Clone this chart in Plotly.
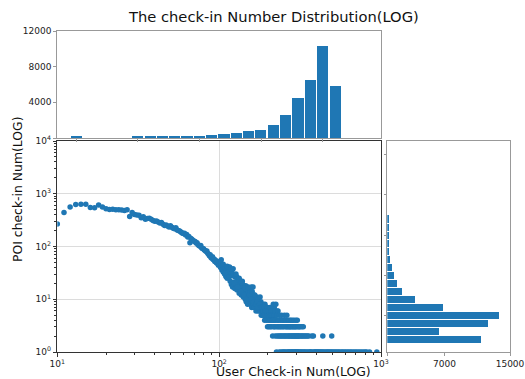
import plotly.graph_objects as go

W, H = 525, 379

# ---- scatter data: user check-in number -> POI check-in count
head = {10: 268, 11: 440, 12: 560, 13: 625, 14: 630, 15: 635, 16: 550, 17: 545, 18: 610,
        19: 560, 20: 520, 21: 505, 22: 510, 23: 495, 24: 500, 25: 490, 26: 480, 27: 500,
        28: 370, 29: 440, 30: 405, 31: 395, 32: 390, 33: 350, 34: 365, 35: 330, 36: 340,
        37: 345, 38: 330, 39: 310, 40: 300, 41: 305, 42: 290, 43: 280, 44: 285, 45: 265,
        46: 250, 47: 255, 48: 245, 49: 235, 50: 248, 51: 232, 52: 222, 53: 218, 54: 226,
        55: 206, 56: 200, 57: 196, 58: 188, 59: 180, 60: 176, 61: 178, 62: 165, 63: 168,
        64: 152, 65: 155, 66: 118, 67: 142, 68: 136, 69: 130, 70: 126, 71: 124, 72: 116,
        73: 118, 74: 108, 75: 104, 76: 101, 77: 104, 78: 94, 79: 92, 80: 91, 81: 86,
        82: 84, 83: 80, 84: 82, 85: 74, 86: 72, 87: 67, 88: 70, 89: 62, 90: 60, 91: 64,
        92: 56, 93: 58, 94: 52, 95: 55, 96: 50, 97: 48, 98: 51, 99: 44, 100: 46}

mid = {101: 52, 102: 40, 103: 47, 104: 36, 105: 44, 106: 33, 107: 41, 108: 30, 109: 38,
       110: 27, 111: 36, 112: 25, 113: 33, 114: 29, 115: 35, 116: 41, 117: 22, 118: 30,
       119: 19, 120: 32, 121: 17, 122: 38, 123: 21, 124: 28, 125: 16, 126: 26, 127: 19,
       128: 27, 129: 15, 130: 24, 131: 18, 132: 22, 133: 13, 134: 20, 135: 15, 136: 21,
       137: 12, 138: 18, 139: 14, 140: 19, 141: 11, 142: 17, 143: 13, 144: 16, 145: 10,
       146: 18, 147: 9, 148: 15, 149: 12, 150: 8, 151: 14, 152: 11, 153: 16, 154: 9,
       155: 13, 156: 8, 157: 12, 158: 17, 159: 7, 160: 11, 161: 9, 162: 17, 163: 8,
       164: 12, 165: 7, 166: 10, 167: 8, 168: 11, 169: 6, 170: 9, 171: 11, 172: 7,
       173: 10, 174: 6, 175: 9, 176: 7, 177: 8, 178: 6, 179: 11, 180: 7, 181: 9, 182: 5,
       183: 8, 184: 6, 185: 7, 186: 5, 187: 8, 188: 6, 189: 7, 190: 5, 191: 4, 192: 8,
       193: 5, 194: 6, 195: 7, 196: 4, 197: 5, 198: 6, 199: 3, 200: 5}

mid_extra = {103: 56, 106: 46, 109: 31, 112: 42, 115: 26, 118: 38, 121: 28, 124: 20,
             127: 30, 130: 17, 133: 25, 136: 14, 139: 22, 142: 12, 145: 16, 148: 10,
             151: 17, 154: 12, 157: 10, 160: 14, 163: 9, 166: 12, 169: 8, 172: 9, 175: 7,
             178: 8, 181: 7, 184: 7, 187: 6, 190: 7, 193: 6, 196: 6, 199: 7, 203: 6,
             207: 5, 211: 6, 215: 5, 219: 7, 223: 5, 228: 6}

tail = {201: 4, 202: 6, 203: 3, 204: 5, 205: 4, 206: 7, 207: 3, 208: 5, 209: 4, 210: 6,
        211: 3, 212: 4, 213: 5, 214: 2, 215: 4, 216: 8, 217: 3, 218: 5, 219: 4, 220: 3,
        221: 6, 222: 2, 223: 4, 224: 8, 225: 3, 226: 1, 227: 5, 228: 2, 229: 4, 230: 3,
        231: 6, 232: 2, 233: 4, 234: 3, 235: 1, 236: 5, 237: 2, 238: 3, 239: 4, 240: 2,
        241: 1, 242: 3, 243: 5, 244: 2, 245: 4, 246: 1, 247: 3, 248: 2, 249: 4, 250: 1,
        251: 3, 252: 2, 253: 5, 254: 1, 255: 4, 256: 2, 257: 3, 258: 1, 259: 2, 260: 4,
        261: 3, 262: 5, 263: 1, 264: 2, 265: 3, 266: 4, 267: 1, 268: 2, 269: 3, 270: 1,
        271: 2, 272: 4, 273: 3, 274: 1, 275: 2, 276: 3, 277: 4, 278: 1, 279: 2, 280: 3,
        281: 1, 282: 2, 283: 4, 284: 1, 285: 3, 286: 2, 287: 1, 288: 3, 289: 2, 290: 4,
        291: 1, 292: 2, 293: 3, 294: 1, 295: 2, 296: 3, 297: 1, 298: 4, 299: 2, 300: 1,
        301: 3, 302: 2, 303: 1, 304: 4, 305: 2, 306: 1, 307: 3, 308: 2, 309: 1, 310: 2,
        312: 3, 313: 1, 315: 2, 316: 3, 318: 1, 320: 2, 322: 1, 324: 3, 325: 2, 327: 1,
        329: 2, 331: 3, 333: 1, 335: 2, 337: 1, 340: 2, 343: 1, 346: 2, 349: 1, 352: 2,
        355: 1, 358: 2, 362: 1, 366: 1, 370: 1, 374: 2, 378: 1, 382: 2, 386: 1, 390: 1,
        395: 1, 400: 1, 405: 1, 410: 1, 416: 1, 422: 1, 428: 1, 435: 1, 437: 2, 442: 1,
        450: 1, 458: 1, 465: 1, 472: 1, 480: 1, 488: 1, 496: 2, 497: 1, 505: 1, 515: 1,
        525: 1, 535: 1, 545: 1, 556: 1, 568: 1, 580: 1, 592: 1, 605: 1, 618: 1, 632: 1,
        646: 1, 660: 1, 676: 1, 692: 1, 708: 1, 725: 1, 743: 1, 762: 1, 782: 1, 800: 1,
        817: 1, 850: 1, 942: 1}

# ---- top histogram (bins of log10 user check-in number)
user_bins_log = [1.118, 1.194, 1.270, 1.346, 1.422, 1.498, 1.575, 1.651, 1.727, 1.803, 1.879,
                 1.956, 2.032, 2.108, 2.184, 2.260, 2.337, 2.413, 2.489, 2.565, 2.641, 2.718]
user_bin_counts = [160, 0, 0, 0, 0, 160, 160, 160, 160, 160, 160, 300, 450, 600, 750, 940,
                   1430, 2560, 4490, 6450, 10330, 5820]
user_bin_width = 0.0762

# ---- right histogram (bins of log10 POI check-in number)
poi_bins_log = [3.741, 3.589, 3.436, 3.284, 3.131, 2.979, 2.826, 2.674, 2.521, 2.369, 2.216,
                2.064, 1.911, 1.759, 1.606, 1.454, 1.301, 1.149, 0.996, 0.844, 0.691, 0.539,
                0.386, 0.234]
poi_bin_counts = [0, 0, 0, 0, 0, 0, 0, 0, 160, 160, 160, 160, 160, 370, 610, 815, 1220, 1870,
                  3380, 6840, 13690, 12380, 6390, 11530]
poi_bin_width = 0.1525

# ---- ticks
x_ticks = [10, 100, 1000]
x_tick_text = ["10<sup>1</sup>", "10<sup>2</sup>", "10<sup>3</sup>"]
y_ticks = [1, 10, 100, 1000, 10000]
y_tick_text = ["10<sup>0</sup>", "10<sup>1</sup>", "10<sup>2</sup>", "10<sup>3</sup>", "10<sup>4</sup>"]
top_y_ticks = [0, 4000, 8000, 12000]
top_y_text = ["", "4000", "8000", "12000"]
right_x_ticks = [0, 7000, 15000]
right_x_text = ["", "7000", "15000"]

BLUE = "#1f77b4"
FONT = "DejaVu Sans"
TICKC = "#222222"

xs, ys = [], []
for seg in (head, mid, mid_extra, tail):
    xs += list(seg.keys())
    ys += list(seg.values())

fig = go.Figure()
fig.add_trace(go.Scatter(x=xs, y=ys, mode="markers", xaxis="x", yaxis="y",
                         marker=dict(color=BLUE, size=5.5, line=dict(width=0)),
                         showlegend=False, hoverinfo="skip"))
fig.add_trace(go.Bar(x=user_bins_log, y=user_bin_counts, width=user_bin_width * 0.9,
                     xaxis="x2", yaxis="y2",
                     marker=dict(color=BLUE, line=dict(width=0)),
                     showlegend=False, hoverinfo="skip"))
fig.add_trace(go.Bar(y=poi_bins_log, x=poi_bin_counts, width=poi_bin_width * 0.88,
                     orientation="h", xaxis="x3", yaxis="y3",
                     marker=dict(color=BLUE, line=dict(width=0)),
                     showlegend=False, hoverinfo="skip"))

main_x = [57.3 / W, 381 / W]
main_y = [1 - 352 / H, 1 - 141 / H]
top_y = [1 - 138 / H, 1 - 31 / H]
right_x = [387.3 / W, 510 / W]

tickfont = dict(family=FONT, size=9, color=TICKC)
MAINLINE = "#333333"
HISTLINE = "#999999"

fig.update_layout(
    template="none",
    width=W, height=H, margin=dict(l=0, r=0, t=0, b=0, autoexpand=False),
    paper_bgcolor="white", plot_bgcolor="white", bargap=0,
    font=dict(family=FONT, color=TICKC),
    xaxis=dict(domain=main_x, anchor="y", type="log", range=[1, 3], automargin=False,
               tickmode="array", tickvals=x_ticks, ticktext=x_tick_text,
               ticks="outside", ticklen=3.5, tickwidth=1, tickcolor=MAINLINE,
               showline=True, linecolor=MAINLINE, linewidth=1, mirror=True,
               showgrid=True, gridcolor="#dcdcdc", gridwidth=1, zeroline=False,
               tickfont=tickfont,
               minor=dict(ticks="outside", ticklen=2, tickcolor=MAINLINE, dtick="D1",
                          showgrid=False)),
    yaxis=dict(domain=main_y, anchor="x", type="log", range=[0, 4], automargin=False,
               tickmode="array", tickvals=y_ticks, ticktext=y_tick_text,
               ticks="outside", ticklen=3.5, tickwidth=1, tickcolor=MAINLINE,
               showline=True, linecolor=MAINLINE, linewidth=1, mirror=True,
               showgrid=True, gridcolor="#dcdcdc", gridwidth=1, zeroline=False,
               tickfont=tickfont,
               minor=dict(ticks="outside", ticklen=2, tickcolor=MAINLINE, dtick="D1",
                          showgrid=False)),
    xaxis2=dict(domain=main_x, anchor="y2", range=[1, 3], automargin=False,
                tickmode="array", tickvals=user_bins_log[::5], showticklabels=False,
                ticks="outside", ticklen=3, tickcolor=HISTLINE,
                showline=True, linecolor=HISTLINE, linewidth=1, mirror=True,
                showgrid=False, zeroline=False),
    yaxis2=dict(domain=top_y, anchor="x2", range=[0, 12000], automargin=False,
                tickmode="array", tickvals=top_y_ticks, ticktext=top_y_text,
                ticks="outside", ticklen=3, tickcolor=HISTLINE,
                showline=True, linecolor=HISTLINE, linewidth=1, mirror=True,
                showgrid=False, zeroline=False, tickfont=tickfont),
    xaxis3=dict(domain=right_x, anchor="y3", range=[0, 15000], automargin=False,
                tickmode="array", tickvals=right_x_ticks, ticktext=right_x_text,
                ticks="outside", ticklen=3, tickcolor=HISTLINE,
                showline=True, linecolor=HISTLINE, linewidth=1, mirror=True,
                showgrid=False, zeroline=False, tickfont=tickfont),
    yaxis3=dict(domain=main_y, anchor="x3", range=[0, 4], automargin=False,
                tickmode="array", tickvals=poi_bins_log[::5], showticklabels=False,
                ticks="outside", ticklen=2, tickcolor=HISTLINE,
                showline=True, linecolor=HISTLINE, linewidth=1, mirror=True,
                showgrid=False, zeroline=False),
    annotations=[
        dict(text="The check-in Number Distribution(LOG)", xref="paper", yref="paper",
             x=273.5 / W, y=1 - 16 / H, xanchor="center", yanchor="middle",
             showarrow=False, font=dict(family=FONT, size=14.7, color="#111111")),
        dict(text="User Check-in Num(LOG)", xref="paper", yref="paper",
             x=293 / W, y=1 - 371.5 / H, xanchor="center", yanchor="middle",
             showarrow=False, font=dict(family=FONT, size=12.4, color="#111111")),
        dict(text="POI check-in Num(LOG)", xref="paper", yref="paper",
             x=17 / W, y=1 - 190 / H, xanchor="center", yanchor="middle", textangle=-90,
             showarrow=False, font=dict(family=FONT, size=12.4, color="#111111")),
    ],
)

fig.write_html("out.html")
